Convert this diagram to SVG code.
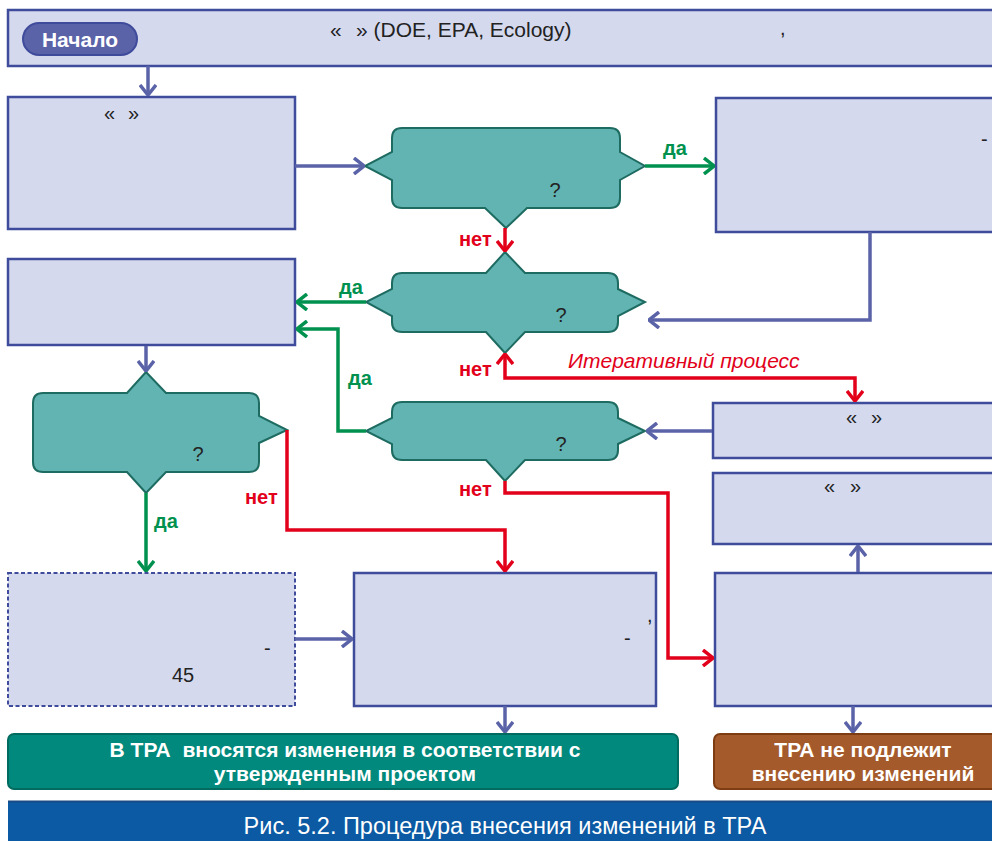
<svg xmlns="http://www.w3.org/2000/svg" width="992" height="841" viewBox="0 0 992 841">
<defs>
<style>
.box{fill:#d4d9ee;stroke:#3f4b9b;stroke-width:2.5}
.dbox{fill:#d4d9ee;stroke:#3f4b9b;stroke-width:2;stroke-dasharray:4 2.5}
.dec{fill:#62b4b2;stroke:#1d6b61;stroke-width:2}
.t{font-family:"Liberation Sans",Arial,sans-serif;font-size:20px;fill:#222}
.q{font-family:"Liberation Sans",Arial,sans-serif;font-size:20px;fill:#222;text-anchor:middle}
.lg{font-family:"Liberation Sans",Arial,sans-serif;font-size:20px;font-weight:bold;fill:#00914f}
.lr{font-family:"Liberation Sans",Arial,sans-serif;font-size:20px;font-weight:bold;fill:#e2001a}
.wb{font-family:"Liberation Sans",Arial,sans-serif;font-size:21px;font-weight:bold;fill:#fff;text-anchor:middle;white-space:pre}
.cb{stroke:#5b63a8;stroke-width:3.5;fill:none}
.cg{stroke:#00914f;stroke-width:3.5;fill:none}
.cr{stroke:#e2001a;stroke-width:3.5;fill:none}
</style>
<marker id="ab" viewBox="0 0 12 18" refX="11" refY="9" markerWidth="12" markerHeight="18" orient="auto-start-reverse" markerUnits="userSpaceOnUse"><path d="M1,1 L11,9 L1,17" fill="none" stroke="#5b63a8" stroke-width="3.5"/></marker>
<marker id="ag" viewBox="0 0 12 18" refX="11" refY="9" markerWidth="12" markerHeight="18" orient="auto-start-reverse" markerUnits="userSpaceOnUse"><path d="M1,1 L11,9 L1,17" fill="none" stroke="#00914f" stroke-width="3.5"/></marker>
<marker id="ar" viewBox="0 0 12 18" refX="11" refY="9" markerWidth="12" markerHeight="18" orient="auto-start-reverse" markerUnits="userSpaceOnUse"><path d="M1,1 L11,9 L1,17" fill="none" stroke="#e2001a" stroke-width="3.5"/></marker>
</defs>
<rect width="992" height="841" fill="#fff"/>

<g id="start">
<rect class="box" x="8" y="10" width="995" height="56"/>
<rect x="23" y="23" width="114" height="32" rx="16" fill="#5a62a8" stroke="#3f4b9b" stroke-width="2"/>
<text x="80" y="47" class="wb">Начало</text>
<text x="330" y="37" class="t" style="font-size:21px">«</text>
<text x="356" y="37" class="t" style="font-size:21px">» (DOE, EPA, Ecology)</text>
<text x="780" y="35" class="t">,</text>
</g>

<g id="box1">
<rect class="box" x="8" y="97" width="287" height="132"/>
<text x="104" y="120" class="t">«</text>
<text x="128" y="120" class="t">»</text>
</g>

<g id="dec1">
<path class="dec" d="M402,128 H610 Q620,128 620,138 V152 L645,166 L620,180 V198 Q620,208 610,208 H527 L506,228 L485,208 H402 Q392,208 392,198 V180 L365,166 L392,152 V138 Q392,128 402,128 Z"/>
<text x="555" y="197" class="q">?</text>
</g>

<g id="boxR1">
<rect class="box" x="716" y="98" width="290" height="134"/>
<text x="981" y="146" class="t">-</text>
</g>

<g id="box2">
<rect class="box" x="8" y="259" width="287" height="86"/>
</g>

<g id="dec2">
<path class="dec" d="M402,273 H486 L505,252 L525,273 H608 Q618,273 618,283 V289 L645,302 L618,316 V322 Q618,332 608,332 H525 L505,353 L486,332 H402 Q392,332 392,322 V316 L366,302 L392,289 V283 Q392,273 402,273 Z"/>
<text x="561" y="322" class="q">?</text>
</g>

<g id="dec3">
<path class="dec" d="M43,393 H127 L146,372 L166,393 H249 Q259,393 259,403 V416 L287,430 L259,443 V462 Q259,472 249,472 H166 L146,493 L127,472 H43 Q33,472 33,462 V403 Q33,393 43,393 Z"/>
<text x="198" y="461" class="q">?</text>
</g>

<g id="dec4">
<path class="dec" d="M402,402 H608 Q618,402 618,412 V418 L645,431 L618,444 V450 Q618,460 608,460 H525 L505,481 L486,460 H402 Q392,460 392,450 V444 L366,431 L392,418 V412 Q392,402 402,402 Z"/>
<text x="561" y="451" class="q">?</text>
</g>

<g id="boxR3">
<rect class="box" x="713" y="403" width="290" height="55"/>
<text x="846" y="424" class="t">«</text>
<text x="871" y="424" class="t">»</text>
</g>

<g id="boxR4">
<rect class="box" x="713" y="473" width="290" height="71"/>
<text x="824" y="493" class="t">«</text>
<text x="850" y="493" class="t">»</text>
</g>

<g id="boxDash">
<rect class="dbox" x="8" y="573" width="287" height="133"/>
<text x="264" y="655" class="t">-</text>
<text x="172" y="682" class="t">45</text>
</g>

<g id="boxMid">
<rect class="box" x="354" y="573" width="302" height="133"/>
<text x="647" y="622" class="t">,</text>
<text x="624" y="645" class="t">-</text>
</g>

<g id="boxR5">
<rect class="box" x="715" y="573" width="290" height="133"/>
</g>

<g id="resultYes">
<rect x="8" y="734" width="670" height="55" rx="6" fill="#00897c" stroke="#006b5e" stroke-width="2"/>
<text x="345" y="757" class="wb">В ТРА  вносятся изменения в соответствии с</text>
<text x="345" y="781" class="wb">утвержденным проектом</text>
</g>

<g id="resultNo">
<rect x="714" y="734" width="290" height="55" rx="6" fill="#a45a2a" stroke="#7d3c12" stroke-width="2"/>
<text x="863" y="757" class="wb">ТРА не подлежит</text>
<text x="863" y="781" class="wb">внесению изменений</text>
</g>

<g id="caption">
<rect x="8" y="801" width="992" height="45" fill="#0b5aa3"/>
<line x1="8" y1="801.5" x2="992" y2="801.5" stroke="#1b4b85" stroke-width="2"/>
<text x="505" y="834" style="font-family:'Liberation Sans',Arial,sans-serif;font-size:23.5px;fill:#fff;text-anchor:middle">Рис. 5.2. Процедура внесения изменений в ТРА</text>
</g>

<g id="connectors">
<path class="cb" d="M148,66 V95" marker-end="url(#ab)"/>
<path class="cb" d="M295,166 H364" marker-end="url(#ab)"/>
<path class="cg" d="M645,166 H714" marker-end="url(#ag)"/>
<path class="cr" d="M505,228 V251" marker-end="url(#ar)"/>
<path class="cb" d="M870,232 V320 H649" marker-end="url(#ab)"/>
<path class="cg" d="M366,302 H297" marker-end="url(#ag)"/>
<path class="cg" d="M366,431 H338 V329 H297" marker-end="url(#ag)"/>
<path class="cb" d="M146,346 V371" marker-end="url(#ab)"/>
<path class="cr" d="M287,430 V530 H505 V571" marker-end="url(#ar)"/>
<path class="cg" d="M146,493 V571" marker-end="url(#ag)"/>
<path class="cr" d="M505,354 V378 H855 V401" marker-start="url(#ar)" marker-end="url(#ar)"/>
<path class="cb" d="M712,431 H647" marker-end="url(#ab)"/>
<path class="cr" d="M505,481 V493 H668 V658 H713" marker-end="url(#ar)"/>
<path class="cb" d="M858,572 V546" marker-end="url(#ab)"/>
<path class="cb" d="M295,639 H352" marker-end="url(#ab)"/>
<path class="cb" d="M505,706 V732" marker-end="url(#ab)"/>
<path class="cb" d="M853,706 V732" marker-end="url(#ab)"/>
<text x="663" y="155" class="lg">да</text>
<text x="459" y="246" class="lr">нет</text>
<text x="339" y="294" class="lg">да</text>
<text x="348" y="385" class="lg">да</text>
<text x="459" y="376" class="lr">нет</text>
<text x="568" y="368" style="font-family:'Liberation Sans',Arial,sans-serif;font-size:21px;font-style:italic;fill:#e2001a">Итеративный процесс</text>
<text x="459" y="496" class="lr">нет</text>
<text x="245" y="504" class="lr">нет</text>
<text x="154" y="528" class="lg">да</text>
</g>
</svg>
